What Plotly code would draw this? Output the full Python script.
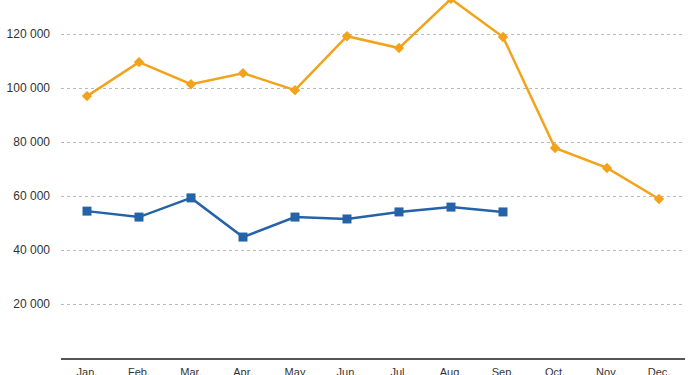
import plotly.graph_objects as go

months = ["Jan.", "Feb.", "Mar.", "Apr.", "May", "Jun.", "Jul.", "Aug.", "Sep.", "Oct.", "Nov.", "Dec."]
series_orange = [97000, 109600, 101400, 105500, 99200, 119200, 114800, 133000, 118900, 77800, 70400, 58900]
series_blue = [54400, 52200, 59300, 44800, 52200, 51500, 54100, 55900, 54100]
y_ticks = [20000, 40000, 60000, 80000, 100000, 120000]

fig = go.Figure()
fig.add_trace(go.Scatter(
    x=months, y=series_orange, mode="lines+markers",
    line=dict(color="#F2A31B", width=2.5),
    marker=dict(symbol="diamond", size=8, color="#F2A31B"),
    showlegend=False,
))
fig.add_trace(go.Scatter(
    x=months[:len(series_blue)], y=series_blue, mode="lines+markers",
    line=dict(color="#2463A8", width=2.5),
    marker=dict(symbol="square", size=9, color="#2463A8"),
    showlegend=False,
))

fig.update_layout(
    width=700, height=375,
    margin=dict(l=61, r=15, t=0, b=17),
    plot_bgcolor="white", paper_bgcolor="white",
    separators=". ",
    font=dict(family="Liberation Sans, Arial, sans-serif", size=11, color="#333333"),
    xaxis=dict(
        type="category", categoryorder="array", categoryarray=months,
        range=[-0.5, 11.5], automargin=False,
        showgrid=False, showline=True, linecolor="#555555", linewidth=1.5,
        ticks="", tickfont=dict(size=11, color="#333333"), ticklabelstandoff=3,
    ),
    yaxis=dict(
        range=[0, 132600], tickvals=y_ticks, tickformat=",d", automargin=False,
        showgrid=True, gridcolor="#bbbbbb", griddash="dot", gridwidth=1,
        zeroline=False, showline=False, ticks="",
        tickfont=dict(size=12, color="#333333"), ticklabelstandoff=10,
    ),
)

fig.write_html("out.html", config={"displayModeBar": False},
               post_script="document.body.style.margin='0';document.body.style.overflow='hidden';")
